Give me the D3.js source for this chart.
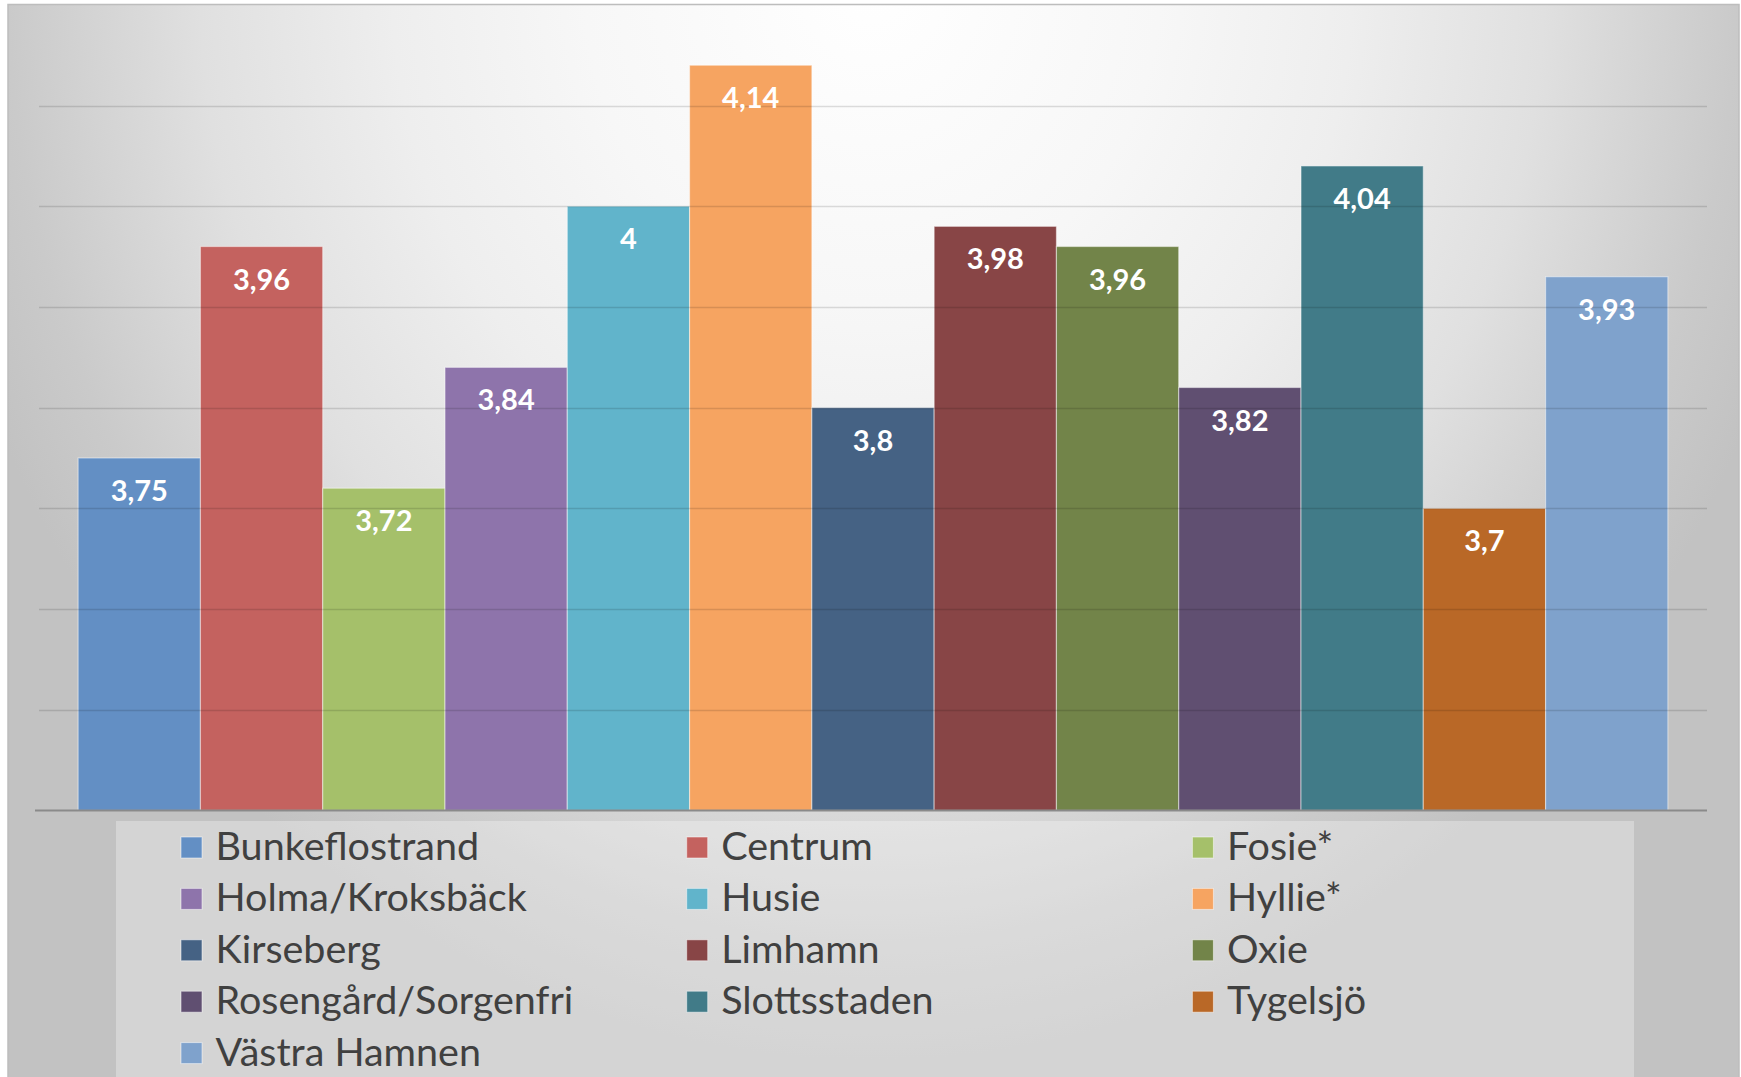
<!DOCTYPE html>
<html>
<head>
<meta charset="utf-8">
<script src="https://cdn.jsdelivr.net/npm/d3@7"></script>
<style>
    body { margin: 0; background: #fff; }
    svg { display: block; }
</style>
</head>
<body>
<svg id="chart"></svg>
<script>
"use strict";

// District names (series order, also legend order)
const districts = ["Bunkeflostrand", "Centrum", "Fosie*", "Holma/Kroksbäck", "Husie", "Hyllie*",
    "Kirseberg", "Limhamn", "Oxie", "Rosengård/Sorgenfri", "Slottsstaden", "Tygelsjö", "Västra Hamnen"];

// Average score per district
const scores = [3.75, 3.96, 3.72, 3.84, 4.00, 4.14, 3.80, 3.98, 3.96, 3.82, 4.04, 3.70, 3.93];

// Bar colours
const barColors = ["#638fc4", "#c4625f", "#a5c06a", "#8e74ab", "#61b4cb", "#f6a461",
    "#456284", "#884546", "#728449", "#604f71", "#417b88", "#b96827", "#7fa2cc"];

// Value axis range
const yDomain = [3.4, 4.2];

const width = 1741, height = 1077,
    plot = {left: 39, right: 1707, top: 4.8, bottom: 810.5};

const svg = d3.select("#chart")
    .attr("width", width)
    .attr("height", height);

// Background gradient, light at top centre, grey towards the edges
const defs = svg.append("defs");
const bg = defs.append("radialGradient")
    .attr("id", "bgGrad")
    .attr("gradientUnits", "userSpaceOnUse")
    .attr("cx", 0).attr("cy", 0).attr("r", 1)
    .attr("gradientTransform", "translate(872,-20) scale(960,1080)");
[[0, "#ffffff"], [0.3, "#f7f7f7"], [0.5, "#eeeeee"], [0.7, "#e0e0e0"], [0.9, "#cacaca"], [1, "#c2c2c2"]]
    .forEach(([o, c]) => bg.append("stop").attr("offset", o).attr("stop-color", c));

svg.append("rect")
    .attr("x", 8).attr("y", 4.5)
    .attr("width", 1731).attr("height", height)
    .attr("fill", "url(#bgGrad)")
    .attr("stroke", "#bdbdbd")
    .attr("stroke-width", 1.5);

const x = d3.scaleBand()
    .domain(districts)
    .range([plot.left, plot.right])
    .paddingInner(0)
    .paddingOuter(0.32);

const y = d3.scaleLinear()
    .domain(yDomain)
    .range([plot.bottom, plot.top]);

// Bars
svg.append("g")
    .selectAll("rect")
    .data(districts)
    .join("rect")
    .attr("x", (d) => x(d))
    .attr("y", (d, i) => y(scores[i]))
    .attr("width", x.bandwidth())
    .attr("height", (d, i) => y(yDomain[0]) - y(scores[i]))
    .attr("fill", (d, i) => barColors[i])
    .attr("stroke", "rgba(255,255,255,0.45)")
    .attr("stroke-width", 1.2);

// Gridlines drawn over the bars, they show through faintly in the original
svg.append("g")
    .selectAll("line")
    .data(y.ticks(8).filter((t) => t > yDomain[0] + 1e-9 && t < yDomain[1] - 1e-9))
    .join("line")
    .attr("x1", plot.left).attr("x2", plot.right)
    .attr("y1", (d) => Math.round(y(d)) + 0.5)
    .attr("y2", (d) => Math.round(y(d)) + 0.5)
    .attr("stroke", "rgba(0,0,0,0.13)")
    .attr("stroke-width", 1.6);

// Category axis line
svg.append("line")
    .attr("x1", plot.left - 4).attr("x2", plot.right)
    .attr("y1", plot.bottom).attr("y2", plot.bottom)
    .attr("stroke", "#8a8a8a")
    .attr("stroke-width", 2);

// Data labels
svg.append("g")
    .selectAll("text")
    .data(districts)
    .join("text")
    .attr("x", (d) => x(d) + x.bandwidth() / 2)
    .attr("y", (d, i) => y(scores[i]) + 43)
    .attr("text-anchor", "middle")
    .attr("font-family", "Lato, 'Open Sans', sans-serif")
    .attr("font-weight", "bold")
    .attr("font-size", 29)
    .attr("fill", "#fff")
    .text((d, i) => String(scores[i]).replace(".", ","));

// Legend box
svg.append("rect")
    .attr("x", 116).attr("y", 821)
    .attr("width", 1518).attr("height", height - 821)
    .attr("fill", "rgba(255,255,255,0.3)");

const legendCol = 181, legendColStep = 505.7,
    legendRow = 860, legendRowStep = 51.4;

const legendItem = svg.append("g")
    .selectAll("g")
    .data(districts)
    .join("g")
    .attr("transform", (d, i) =>
        `translate(${legendCol + (i % 3) * legendColStep},${legendRow + Math.floor(i / 3) * legendRowStep})`);

legendItem.append("rect")
    .attr("x", 0).attr("y", -23)
    .attr("width", 21).attr("height", 21)
    .attr("fill", (d, i) => barColors[i])
    .attr("stroke", "rgba(255,255,255,0.5)")
    .attr("stroke-width", 1);

legendItem.append("text")
    .attr("x", 34.5)
    .attr("y", 0)
    .attr("font-family", "Lato, 'Open Sans', sans-serif")
    .attr("font-size", 39.5)
    .attr("fill", "#404040")
    .text((d) => d);
</script>
</body>
</html>
